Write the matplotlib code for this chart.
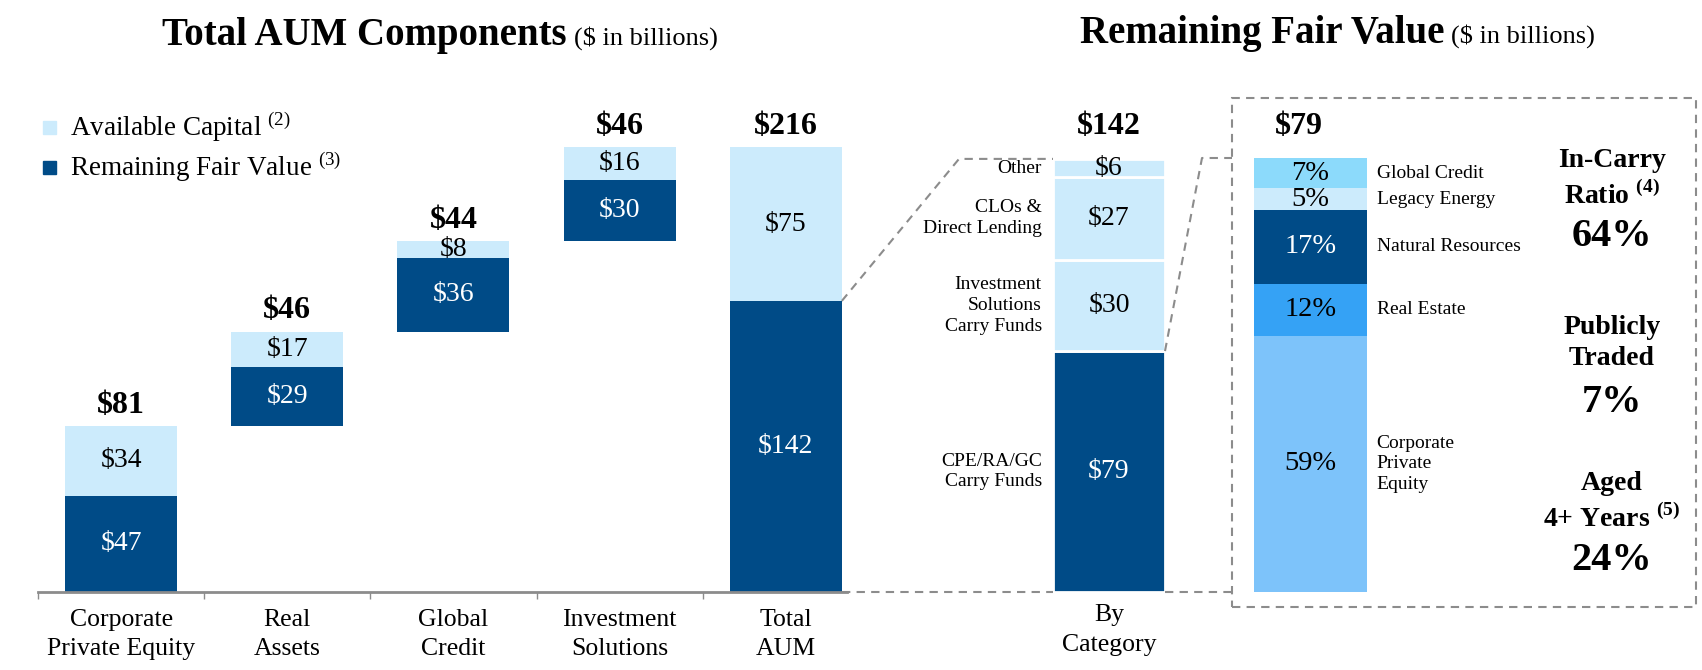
import matplotlib.pyplot as plt
import numpy as np
from matplotlib.patches import Rectangle
from matplotlib.lines import Line2D

plt.rcParams['font.family'] = ['Liberation Serif', 'DejaVu Serif']
plt.rcParams['mathtext.fontset'] = 'custom'
plt.rcParams['mathtext.rm'] = 'Liberation Serif'
plt.rcParams['mathtext.bf'] = 'Liberation Serif:bold'

# total AUM components ($bn)
categories = ['Corporate\nPrivate Equity', 'Real\nAssets', 'Global\nCredit',
              'Investment\nSolutions', 'Total\nAUM']
remaining_fv = np.array([47, 29, 36, 30, 142])
available_cap = np.array([34, 17, 8, 16, 75])
totals = ['$81', '$46', '$44', '$46', '$216']

# remaining fair value by category ($bn), bottom to top
cat_names = ['CPE/RA/GC\nCarry Funds', 'Investment\nSolutions\nCarry Funds',
             'CLOs &\nDirect Lending', 'Other']
cat_values = np.array([79, 30, 27, 6])
cat_total = '$142'

# CPE/RA/GC carry funds split (%), bottom to top
sector_names = ['Corporate\nPrivate\nEquity', 'Real Estate', 'Natural Resources',
                'Legacy Energy', 'Global Credit']
sector_pct = np.array([59, 12, 17, 5, 7])
sector_total = '$79'

stat_labels = ['In-Carry\nRatio $^{\\mathbf{(4)}}$', 'Publicly\nTraded',
               'Aged\n4+ Years $^{\\mathbf{(5)}}$']
stat_values = ['64%', '7%', '24%']

NAVY = '#004B87'
LIGHT = '#CCEBFC'
GREY = '#8C8C8C'
sector_colors = ['#7DC3FA', '#35A2F5', NAVY, LIGHT, '#8CDAFB']
sector_text = ['black', 'black', 'white', 'black', 'black']

W, H = 1702, 670
def fx(x):
    return x / W
def fy(y):
    return 1 - y / H

fig = plt.figure(figsize=(W / 100, H / 100), dpi=100)

# ---- left waterfall
ax1 = fig.add_axes([fx(38), fy(592), (847 - 38) / W, (592 - 100) / H])
x = np.arange(len(categories))
bw = 0.674
comp = (remaining_fv + available_cap)[:-1]
base = np.r_[0, np.cumsum(comp)[:-1], 0]
ax1.bar(x, remaining_fv, bw, bottom=base, color=NAVY)
ax1.bar(x, available_cap, bw, bottom=base + remaining_fv, color=LIGHT)
tops = base + remaining_fv + available_cap
for i in range(len(x)):
    ax1.text(x[i], base[i] + remaining_fv[i] / 2, '$%d' % remaining_fv[i],
             ha='center', va='center', color='white', fontsize=20)
    ax1.text(x[i], base[i] + remaining_fv[i] + available_cap[i] / 2,
             '$%d' % available_cap[i], ha='center', va='center', fontsize=20)
    ax1.annotate(totals[i], (x[i], tops[i]), xytext=(0, 15), textcoords='offset points',
                 ha='center', va='center', fontsize=23, weight='bold')
ax1.set_xlim(-0.5, 4.368)
ax1.set_ylim(0, 492 / 2.05)
for s in ['top', 'right', 'left']:
    ax1.spines[s].set_visible(False)
ax1.spines['bottom'].set_color(GREY)
ax1.spines['bottom'].set_linewidth(2)
ax1.set_yticks([])
ax1.set_xticks(np.arange(-0.5, 4, 1), [''] * 5)
ax1.set_xticks(x, categories, minor=True)
ax1.tick_params(axis='x', which='major', length=5, width=1, color=GREY, direction='out')
ax1.tick_params(axis='x', which='minor', length=0, pad=12, labelsize=18.5)
for t in ax1.get_xticklabels(minor=True):
    t.set_linespacing(1.45)

# ---- by category
ax2 = fig.add_axes([fx(1053), fy(592), 112 / W, (592 - 100) / H])
cat_bottom = np.r_[0, np.cumsum(cat_values)[:-1]]
cat_colors = [NAVY, LIGHT, LIGHT, LIGHT]
ax2.bar(0, cat_values, 1.0, bottom=cat_bottom, color=cat_colors,
        edgecolor='white', linewidth=2)
for i in range(len(cat_values)):
    yc = cat_bottom[i] + cat_values[i] / 2
    ax2.text(0, yc, '$%d' % cat_values[i], ha='center', va='center', fontsize=20,
             color='white' if i == 0 else 'black')
    ax2.annotate(cat_names[i], (-0.5, yc), xytext=(-8, 0), textcoords='offset points',
                 ha='right', va='center', fontsize=14, linespacing=1.3)
ax2.annotate(cat_total, (0, cat_values.sum()), xytext=(0, 23), textcoords='offset points',
             ha='center', va='center', fontsize=23, weight='bold')
ax2.set_xlim(-0.5, 0.5)
ax2.set_ylim(0, 492 / 3.05)
for s in ax2.spines.values():
    s.set_visible(False)
ax2.set_yticks([])
ax2.set_xticks([0], ['By\nCategory'])
ax2.tick_params(axis='x', length=0, pad=9, labelsize=18.5)
for t in ax2.get_xticklabels():
    t.set_linespacing(1.45)

# ---- sector split
ax3 = fig.add_axes([fx(1254), fy(592), 113 / W, (592 - 100) / H])
sec_bottom = np.r_[0, np.cumsum(sector_pct)[:-1]]
ax3.bar(0, sector_pct, 1.0, bottom=sec_bottom, color=sector_colors)
for i in range(len(sector_pct)):
    yc = sec_bottom[i] + sector_pct[i] / 2
    ax3.text(0, yc, '%d%%' % sector_pct[i], ha='center', va='center', fontsize=20.5,
             color=sector_text[i])
    ax3.annotate(sector_names[i], (0.5, yc), xytext=(7, 0), textcoords='offset points',
                 ha='left', va='center', fontsize=14, linespacing=1.3)
ax3.annotate(sector_total, (-0.1, sector_pct.sum()), xytext=(0, 23), textcoords='offset points',
             ha='center', va='center', fontsize=23, weight='bold')
ax3.set_xlim(-0.5, 0.5)
ax3.set_ylim(0, 492 / 4.34)
ax3.axis('off')

# ---- dashed box and connectors
dash = dict(color=GREY, linewidth=1.5, linestyle=(0, (4, 3)))
fig.add_artist(Rectangle((fx(1232), fy(607)), (1696 - 1232) / W, (607 - 98) / H,
                         fill=False, transform=fig.transFigure, **dash))

to_fig = fig.transFigure.inverted()
def pt(ax, xy):
    return to_fig.transform(ax.transData.transform(xy))

a = pt(ax1, (4 + bw / 2, remaining_fv[-1]))
b = pt(ax2, (-0.5, cat_values.sum()))
c = pt(ax2, (0.5, cat_values[0]))
d = pt(ax3, (0, sector_pct.sum()))
box_x = fx(1232)
fig.add_artist(Line2D([a[0], fx(959), b[0]], [a[1], b[1], b[1]],
                      transform=fig.transFigure, **dash))
fig.add_artist(Line2D([c[0], fx(1202), box_x], [c[1], d[1], d[1]],
                      transform=fig.transFigure, **dash))
g1 = pt(ax1, (4 + bw / 2, 0))
g2 = pt(ax2, (-0.5, 0))
g3 = pt(ax2, (0.5, 0))
fig.add_artist(Line2D([g1[0], g2[0]], [g1[1], g1[1]], transform=fig.transFigure, **dash))
fig.add_artist(Line2D([g3[0], box_x], [g3[1], g3[1]], transform=fig.transFigure, **dash))

# ---- stats
stat_y = [(179, 237), (343, 402), (502, 561)]
for lab, val, (yl, yv) in zip(stat_labels, stat_values, stat_y):
    fig.text(fx(1612), fy(yl), lab, ha='center', va='center', fontsize=20,
             weight='bold', linespacing=1.35)
    fig.text(fx(1612), fy(yv), val, ha='center', va='center', fontsize=29, weight='bold')

# ---- titles
fig.text(fx(567), fy(45), 'Total AUM Components', ha='right', va='baseline',
         fontsize=28, weight='bold')
fig.text(fx(574), fy(45), '($ in billions)', ha='left', va='baseline', fontsize=19)
fig.text(fx(1444), fy(43), 'Remaining Fair Value', ha='right', va='baseline',
         fontsize=28, weight='bold')
fig.text(fx(1451), fy(43), '($ in billions)', ha='left', va='baseline', fontsize=19)

# ---- legend
for yy, col, lab in [(127, LIGHT, 'Available Capital $^{(2)}$'),
                     (167, NAVY, 'Remaining Fair Value $^{(3)}$')]:
    fig.add_artist(Rectangle((fx(43), fy(yy + 7)), 13 / W, 13 / H, color=col,
                             transform=fig.transFigure))
    fig.text(fx(70), fy(yy), lab, ha='left', va='center', fontsize=19.5)

fig.savefig('out.png', dpi=100)
